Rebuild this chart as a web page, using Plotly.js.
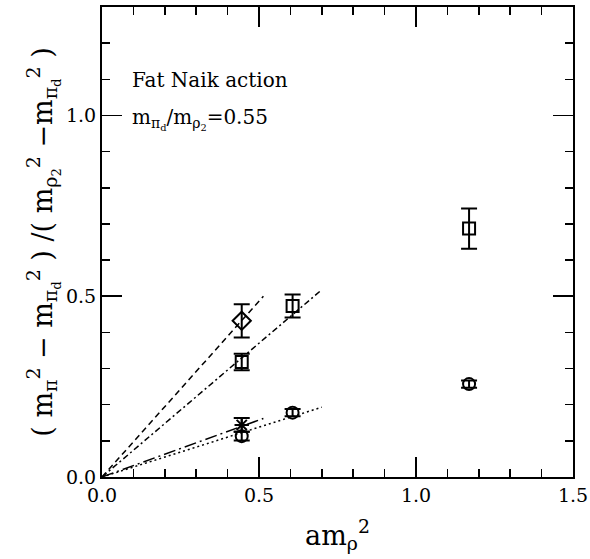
<!DOCTYPE html>
<html><head><meta charset="utf-8">
<script src="https://cdn.plot.ly/plotly-3.0.1.min.js"></script>
<style>body{margin:0;padding:0;background:#fff}#plot{width:590px;height:559px}</style>
</head><body><div id="plot"></div>
<script>
// data series
const diamondX = [0.445];
const diamondY = [0.432];
const diamondErr = [0.046];
const squareX = [0.445, 0.607, 1.169];
const squareY = [0.318, 0.473, 0.687];
const squareErr = [0.023, 0.032, 0.056];
const starX = [0.445];
const starY = [0.144];
const starErr = [0.019];
const circleX = [0.445, 0.607, 1.169];
const circleY = [0.113, 0.178, 0.257];
const circleErr = [0.012, 0.010, 0.010];
// fit lines (from origin)
const fitDashX = [0, 0.514];
const fitDashY = [0, 0.500];
const fitDashDotX = [0, 0.70];
const fitDashDotY = [0, 0.518];
const fitLongDashX = [0, 0.514];
const fitLongDashY = [0, 0.162];
const fitDotX = [0, 0.70];
const fitDotY = [0, 0.193];
const xTicks = [0, 0.5, 1.0, 1.5];
const xTickLabels = ['0.0', '0.5', '1.0', '1.5'];
const yTicks = [0, 0.5, 1.0];
const yTickLabels = ['0.0', '0.5', '1.0'];

const FONT = 'DejaVu Serif, Liberation Serif, serif';
const err = (a) => ({type: 'data', array: a, visible: true, color: '#000', thickness: 2, width: 8});
const mk = (sym, size) => ({symbol: sym, size: size, color: '#000', line: {color: '#000', width: 2}});
const ln = (x, y, dash) => ({x: x, y: y, mode: 'lines', type: 'scatter', line: {color: '#000', width: 1.5, dash: dash}, hoverinfo: 'skip'});

const data = [
  ln(fitDashX, fitDashY, '6px,4px'),
  ln(fitDashDotX, fitDashDotY, '6px,3px,2px,3px'),
  ln(fitLongDashX, fitLongDashY, '12px,4px,2px,4px'),
  ln(fitDotX, fitDotY, '2px,3px'),
  {x: diamondX, y: diamondY, error_y: err(diamondErr), mode: 'markers', type: 'scatter', marker: mk('diamond-open', 14)},
  {x: squareX, y: squareY, error_y: err(squareErr), mode: 'markers', type: 'scatter', marker: mk('square-open', 12)},
  {x: starX, y: starY, error_y: err(starErr), mode: 'markers', type: 'scatter', marker: mk('asterisk-open', 12)},
  {x: circleX, y: circleY, error_y: err(circleErr), mode: 'markers', type: 'scatter', marker: mk('circle-open', 12)}
];

const axisCommon = {
  showgrid: false, zeroline: false, showline: true, linecolor: '#000', linewidth: 2,
  mirror: 'allticks', ticks: 'inside', ticklen: 20, tickwidth: 1.5, tickcolor: '#000',
  tickfont: {family: FONT, size: 19, color: '#000'},
  minor: {ticks: 'inside', ticklen: 8, tickwidth: 1.5, tickcolor: '#000', dtick: 0.1, showgrid: false},
  tickmode: 'array'
};

const layout = {
  width: 590, height: 559,
  margin: {l: 102, r: 17, t: 7, b: 82},
  paper_bgcolor: '#fff', plot_bgcolor: '#fff',
  showlegend: false,
  font: {family: FONT, color: '#000'},
  xaxis: Object.assign({}, axisCommon, {
    range: [0, 1.5], tickvals: xTicks, ticktext: xTickLabels,
    title: {text: 'am<sub>ρ</sub><sup>2</sup>', font: {family: FONT, size: 27, color: '#000'}, standoff: 21}
  }),
  yaxis: Object.assign({}, axisCommon, {
    range: [0, 1.3], tickvals: yTicks, ticktext: yTickLabels,
    title: {text: '( m<sub>π</sub><sup>2</sup> − m<sub>π<sub>d</sub></sub><sup>2</sup> ) /( m<sub>ρ<sub>2</sub></sub><sup>2</sup> −m<sub>π<sub>d</sub></sub><sup>2</sup> )', font: {family: FONT, size: 27, color: '#000'}, standoff: 6}
  }),
  annotations: [
    {xref: 'paper', yref: 'y', x: 0.06, y: 1.097, xanchor: 'left', yanchor: 'middle', showarrow: false,
     text: 'Fat Naik action', font: {family: FONT, size: 20, color: '#000'}},
    {xref: 'paper', yref: 'y', x: 0.06, y: 0.99, xanchor: 'left', yanchor: 'middle', showarrow: false,
     text: 'm<sub>π<sub>d</sub></sub>/m<sub>ρ<sub>2</sub></sub>=0.55', font: {family: FONT, size: 20, color: '#000'}}
  ]
};

Plotly.newPlot('plot', data, layout, {displayModeBar: false, staticPlot: true});
</script></body></html>
